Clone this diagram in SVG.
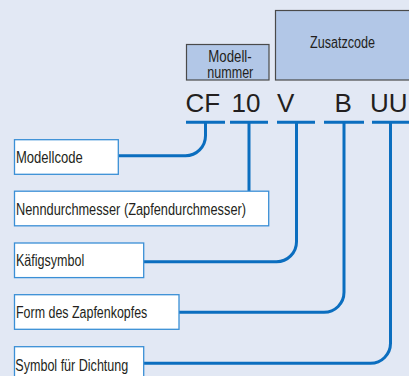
<svg xmlns="http://www.w3.org/2000/svg" width="409" height="376" viewBox="0 0 409 376">
<style>
.lbl{font-family:"Liberation Sans",Arial,sans-serif;font-size:16px;fill:#231f20}
.code{font-family:"Liberation Sans",Arial,sans-serif;font-size:26px;fill:#231f20}
.box{fill:#ffffff;stroke:#3a8fd6;stroke-width:1.3}
.hdr{fill:#b2c7e7;stroke:#4a4a4a;stroke-width:1.2}
.conn{fill:none;stroke:#0b6ebf;stroke-width:3}
</style>
<rect width="409" height="376" fill="#e2e8f4"/>
<g id="header-modellnummer">
<rect class="hdr" x="186.5" y="44.5" width="82.5" height="35.5"/>
<text class="lbl" x="208.3" y="62" textLength="43.4" lengthAdjust="spacingAndGlyphs">Modell-</text>
<text class="lbl" x="207.3" y="77.5" textLength="46" lengthAdjust="spacingAndGlyphs">nummer</text>
</g>
<g id="header-zusatzcode">
<rect class="hdr" x="275.5" y="10.5" width="140" height="69.5"/>
<text class="lbl" x="310" y="48" textLength="65" lengthAdjust="spacingAndGlyphs">Zusatzcode</text>
</g>
<g id="code">
<text class="code" x="185.5" y="112">CF</text>
<text class="code" x="231.5" y="112">10</text>
<text class="code" x="277" y="112">V</text>
<text class="code" x="334.5" y="112">B</text>
<text class="code" x="370" y="112">UU</text>
</g>
<g id="connectors">
<path class="conn" d="M186,122.3 H225 M205.5,122.3 V135.7 A20,20 0 0 1 185.5,155.7 H118.3"/>
<path class="conn" d="M230,122.3 H268 M249,122.3 V191"/>
<path class="conn" d="M277,122.3 H315 M296.5,122.3 V241.7 A20,20 0 0 1 276.5,261.7 H143.7"/>
<path class="conn" d="M324,122.3 H364 M344,122.3 V292.3 A20,20 0 0 1 324,312.3 H179"/>
<path class="conn" d="M372,122.3 H412 M390.5,122.3 V343.3 A20,20 0 0 1 370.5,363.3 H143.7"/>
</g>
<g id="node-modellcode">
<rect class="box" x="14.5" y="139.7" width="103.8" height="34.6"/>
<text class="lbl" x="16" y="163" textLength="66.7" lengthAdjust="spacingAndGlyphs">Modellcode</text>
</g>
<g id="node-nenndurchmesser">
<rect class="box" x="14.5" y="191.2" width="254.2" height="34.6"/>
<text class="lbl" x="16" y="214.5" textLength="230" lengthAdjust="spacingAndGlyphs">Nenndurchmesser (Zapfendurchmesser)</text>
</g>
<g id="node-kaefigsymbol">
<rect class="box" x="14.5" y="243" width="129.2" height="34.6"/>
<text class="lbl" x="16" y="266.3" textLength="68.3" lengthAdjust="spacingAndGlyphs">Käfigsymbol</text>
</g>
<g id="node-form">
<rect class="box" x="14.5" y="294.7" width="164.5" height="34.6"/>
<text class="lbl" x="16" y="318" textLength="131.3" lengthAdjust="spacingAndGlyphs">Form des Zapfenkopfes</text>
</g>
<g id="node-dichtung">
<rect class="box" x="14.5" y="346.7" width="129.2" height="34.6"/>
<text class="lbl" x="15.3" y="370.5" textLength="113" lengthAdjust="spacingAndGlyphs">Symbol für Dichtung</text>
</g>
</svg>
